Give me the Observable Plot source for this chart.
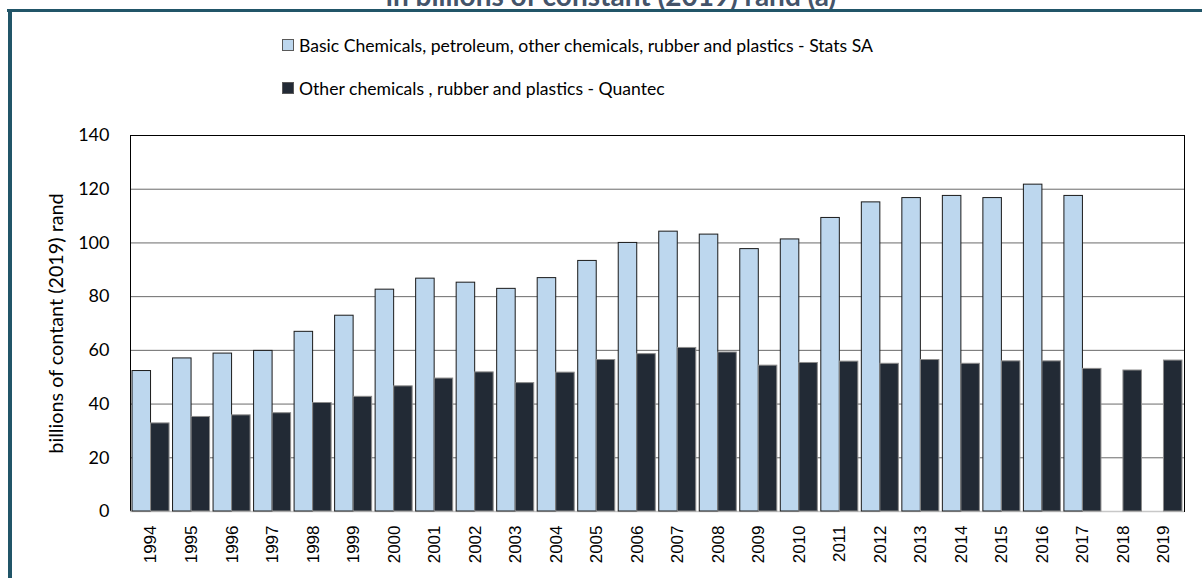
<!DOCTYPE html>
<html>
<head>
<meta charset="utf-8">
<script src="https://cdn.jsdelivr.net/npm/d3@7"></script>
<script src="https://cdn.jsdelivr.net/npm/@observablehq/plot@0.6"></script>
<style>
  html, body { margin: 0; padding: 0; background: #fff; }
  #wrap { position: relative; width: 1202px; height: 578px; overflow: hidden; background: #fff; }
  #wrap svg { position: absolute; left: 0; top: 0; background: transparent; max-width: none; }
  .title { position: absolute; left: 0; width: 1222px; top: -18px; text-align: center;
           font-family: Lato, sans-serif; font-weight: bold; font-size: 28px; line-height: 27px; color: #44546A; white-space: nowrap; }
  .bar-top { position: absolute; left: 7px; top: 9px; width: 1195px; height: 3px; background: #215568; }
  .bar-left { position: absolute; left: 8px; top: 9px; width: 4px; height: 569px; background: #215568; }
  .leg { position: absolute; left: 282px; height: 22px; display: flex; align-items: center;
         font-family: Lato, sans-serif; font-size: 17.6px; color: #000; white-space: nowrap; }
  .sw { width: 10px; height: 10px; border: 1px solid #595959; margin-right: 5px; }
</style>
</head>
<body>
<div id="wrap">
  <div class="title">in billions of constant (2019) rand (a)</div>
  <div class="bar-top"></div>
  <div class="bar-left"></div>
  <div class="leg" id="leg0" style="top:34px"><span class="sw" id="sw0"></span><span id="lt0"></span></div>
  <div class="leg" id="leg1" style="top:77px"><span class="sw" id="sw1"></span><span id="lt1"></span></div>
</div>
<script>
const years = ["1994","1995","1996","1997","1998","1999","2000","2001","2002","2003","2004","2005","2006",
               "2007","2008","2009","2010","2011","2012","2013","2014","2015","2016","2017","2018","2019"];
const seriesNames = [
  "Basic Chemicals, petroleum, other chemicals, rubber and plastics - Stats SA",
  "Other chemicals , rubber and plastics - Quantec"
];
const statsSA = [52.3, 57.0, 58.8, 59.8, 66.9, 72.9, 82.6, 86.7, 85.2, 82.9, 86.9, 93.3, 100.0,
                 104.2, 103.1, 97.7, 101.3, 109.3, 115.1, 116.7, 117.5, 116.7, 121.7, 117.5, null, null];
const quantec = [32.8, 35.2, 35.8, 36.6, 40.4, 42.7, 46.6, 49.5, 51.8, 47.8, 51.7, 56.4, 58.6,
                 60.9, 59.2, 54.3, 55.3, 55.8, 55.0, 56.4, 55.0, 55.9, 55.9, 53.1, 52.5, 56.2];
const yTicks = [0, 20, 40, 60, 80, 100, 120, 140];
const gridTicks = [20, 40, 60, 80, 100, 120];
const colors = ["#BDD7EE", "#222A35"];
const yLabel = "billions of contant (2019) rand";

const rowsA = years.map((y, i) => ({year: y, series: seriesNames[0], value: statsSA[i]})).filter(d => d.value != null);
const rowsB = years.map((y, i) => ({year: y, series: seriesNames[1], value: quantec[i]})).filter(d => d.value != null);

const W = 1202, H = 578;
const M = {marginTop: 135, marginBottom: 67, marginLeft: 130, marginRight: 18};
const PAD_IN = 0.086, PAD_OUT = 0.05;

// Background: axes, grid, frame
const bg = Plot.plot({
  width: W, height: H, ...M,
  x: {type: "band", domain: years, paddingInner: PAD_IN, paddingOuter: PAD_OUT, round: false, label: null},
  y: {domain: [0, 140], label: null},
  marks: [
    Plot.gridY(gridTicks, {stroke: "#6a6a6a", strokeOpacity: 1, strokeWidth: 1}),
    Plot.frame({stroke: "#000", strokeWidth: 1}),
    Plot.ruleY([0], {stroke: "#c8c8c8", strokeWidth: 1.5}),
    Plot.axisX({anchor: "bottom", tickRotate: -90, tickSize: 0, tickPadding: 14,
                fontFamily: "'Liberation Sans', Arial, sans-serif", fontSize: 17, fill: "#000", label: null}),
    Plot.axisY(yTicks, {anchor: "left", tickSize: 0, tickPadding: 21,
                fontFamily: "Lato, sans-serif", fontSize: 18, fill: "#000", label: null}),
    Plot.text([yLabel], {frameAnchor: "left", rotate: -90, dx: -74, textAnchor: "middle",
                fontFamily: "Lato, sans-serif", fontSize: 19.8, fill: "#000"})
  ]
});

// Foreground: grouped bars
const fg = Plot.plot({
  width: W, height: H, ...M,
  fx: {domain: years, paddingInner: PAD_IN, paddingOuter: PAD_OUT, round: false, axis: null, label: null},
  x: {domain: seriesNames, padding: 0, round: false, axis: null},
  y: {domain: [0, 140], axis: null},
  marks: [
    Plot.barY(rowsA, {fx: "year", x: "series", y: "value", fill: colors[0], stroke: "#1a1a1a", strokeWidth: 1}),
    Plot.barY(rowsB, {fx: "year", x: "series", y: "value", fill: colors[1], stroke: "#8c8c8c", strokeWidth: 1})
  ]
});

const wrap = document.getElementById("wrap");
wrap.appendChild(bg);
wrap.appendChild(fg);

document.getElementById("sw0").style.background = colors[0];
document.getElementById("sw1").style.background = colors[1];
document.getElementById("lt0").textContent = seriesNames[0];
document.getElementById("lt1").textContent = seriesNames[1];
</script>
</body>
</html>
